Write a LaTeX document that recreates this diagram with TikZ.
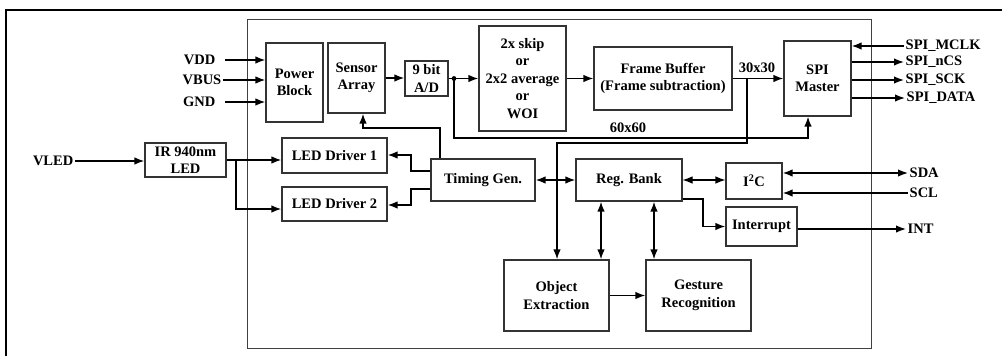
\documentclass[tikz,border=0pt]{standalone}
\usepackage{fontspec}
\setmainfont{Liberation Serif}
\usetikzlibrary{arrows.meta}
\begin{document}
\begin{tikzpicture}[x=1pt,y=-1pt,
 box/.style={draw=black!80, line width=1.1pt, align=center, inner sep=0pt,
   font=\bfseries\fontsize{14.5}{17.5}\selectfont},
 lbl/.style={font=\bfseries\fontsize{14.5}{16}\selectfont, inner sep=1.5pt},
 arr/.style={line width=1.5pt, -{Latex[length=10pt,width=7.5pt]}},
 darr/.style={line width=1.5pt, {Latex[length=10pt,width=7.5pt]}-{Latex[length=10pt,width=7.5pt]}},
 ln/.style={line width=1.5pt}]
\useasboundingbox (0,0) rectangle (1002,356);
% frames
\draw[line width=2pt] (6,356) -- (6,10) -- (1002,10);
\draw[draw=black!75, line width=1pt] (247,19) rectangle (871,348);
% boxes
\node[box, minimum width=57pt, minimum height=79pt] (pwr) at (294.5,82.5) {Power\\Block};
\node[box, minimum width=57pt, minimum height=70pt] (sen) at (356.5,78) {Sensor\\Array};
\node[box, minimum width=43pt, minimum height=35pt] (adc) at (426.5,78.5) {9 bit\\A/D};
\node[box, minimum width=87pt, minimum height=105pt] (skip) at (522.5,78.5) {2x skip\\or\\2x2 average\\or\\WOI};
\node[box, minimum width=138pt, minimum height=63pt] (fb) at (663,78.5) {Frame Buffer\\(Frame subtraction)};
\node[box, minimum width=67pt, minimum height=75pt] (spi) at (817.5,78.5) {SPI\\Master};
\node[box, minimum width=81pt, minimum height=34pt] (ir) at (185.5,160) {IR 940nm\\LED};
\node[box, minimum width=105pt, minimum height=35pt] (d1) at (334.5,155.5) {LED Driver 1};
\node[box, minimum width=105pt, minimum height=34pt] (d2) at (334.5,204) {LED Driver 2};
\node[box, minimum width=104pt, minimum height=42pt] (tg) at (483,180) {Timing Gen.};
\node[box, minimum width=106pt, minimum height=42pt] (rb) at (629,180) {Reg. Bank};
\node[box, minimum width=56pt, minimum height=36pt] (i2c) at (754,181) {I\textsuperscript{2}C};
\node[box, minimum width=71pt, minimum height=39pt] (intr) at (761.5,226.5) {Interrupt};
\node[box, minimum width=105pt, minimum height=71pt] (obj) at (556.5,295.5) {Object\\Extraction};
\node[box, minimum width=105pt, minimum height=71pt] (ges) at (698.5,295.5) {Gesture\\Recognition};
% labels
\node[lbl, anchor=east] (vdd) at (217,60) {VDD};
\node[lbl, anchor=east] (vbus) at (223,80) {VBUS};
\node[lbl, anchor=east] (gnd) at (217,102) {GND};
\node[lbl, anchor=east] (vled) at (75,161) {VLED};
\node[lbl, anchor=west] (mclk) at (904,46) {SPI\_MCLK};
\node[lbl, anchor=west] (ncs) at (904,62) {SPI\_nCS};
\node[lbl, anchor=west] (sck) at (904,80) {SPI\_SCK};
\node[lbl, anchor=west] (sdata) at (905,98) {SPI\_DATA};
\node[lbl, anchor=west] (sda) at (908,173) {SDA};
\node[lbl, anchor=west] (scl) at (908,193) {SCL};
\node[lbl, anchor=west] (int) at (906,229) {INT};
\node[lbl] (l60) at (628,128) {60x60};
\node[lbl] (l30) at (757,68) {30x30};
% coordinates
\coordinate (vddS) at (225,60);
\coordinate (gndS) at (225,102);
\coordinate (irb) at (236,160);
\coordinate (d2in) at (0,209);
\coordinate (tgs) at (440,128);
\coordinate (sx) at (363,0);
\coordinate (t1a) at (411,171);
\coordinate (t1b) at (411,155);
\coordinate (t2a) at (411,189);
\coordinate (t2b) at (411,205);
\coordinate (dot) at (454,78.5);
\coordinate (c60) at (808,138);
\coordinate (b30) at (747,78.5);
\coordinate (c30) at (747,143);
\coordinate (c30b) at (557,143);
\coordinate (xo) at (601,0);
\coordinate (xg) at (654,0);
\coordinate (ri1) at (703,199);
% power inputs
\draw[arr] (vddS) -- (vddS -| pwr.west);
\draw[arr] (vbus.east) -- (vbus.east -| pwr.west);
\draw[arr] (gndS) -- (gndS -| pwr.west);
% LED path
\draw[arr] (vled.east) -- (vled.east -| ir.west);
\draw[arr] (ir.east) -- (ir.east -| d1.west);
\draw[arr] (irb) |- (d2.west |- d2in);
% timing gen outputs
\draw[arr] (tgs |- tg.north) -- (tgs) -| (sen.south -| sx);
\draw[arr] (tg.west |- t1a) -- (t1a) -- (t1b) -- (d1.east |- t1b);
\draw[arr] (tg.west |- t2a) -- (t2a) -- (t2b) -- (d2.east |- t2b);
\draw[darr] (tg.east) -- (rb.west);
% data path
\draw[arr] (sen.east) -- (sen.east -| adc.west);
\draw[arr] (adc.east) -- (adc.east -| skip.west);
\fill (dot) circle (2.4);
\draw[arr] (dot) |- (c60) -- (c60 |- spi.south);
\draw[arr] (skip.east) -- (fb.west);
\draw[arr] (fb.east) -- (spi.west);
\draw[arr] (b30) -- (c30) -- (c30b) -- (c30b |- obj.north);
% reg bank
\draw[darr] (rb.south -| xo) -- (obj.north -| xo);
\draw[darr] (rb.south -| xg) -- (ges.north -| xg);
\draw[arr] (obj.east) -- (ges.west);
\draw[darr, line width=1.1pt] (rb.east) -- (rb.east -| i2c.west);
\draw[arr] (rb.east |- ri1) -- (ri1) |- (intr.west);
% external I/O
\draw[darr] (i2c.east |- sda) -- (sda.west);
\draw[arr] (scl.west) -- (scl.west -| i2c.east);
\draw[arr] (intr.east |- int) -- (int.west);
\draw[arr] (mclk.west) -- (mclk.west -| spi.east);
\draw[arr] (spi.east |- ncs) -- (ncs.west);
\draw[arr] (spi.east |- sck) -- (sck.west);
\draw[arr] (spi.east |- sdata) -- (sdata.west);
\end{tikzpicture}
\end{document}
